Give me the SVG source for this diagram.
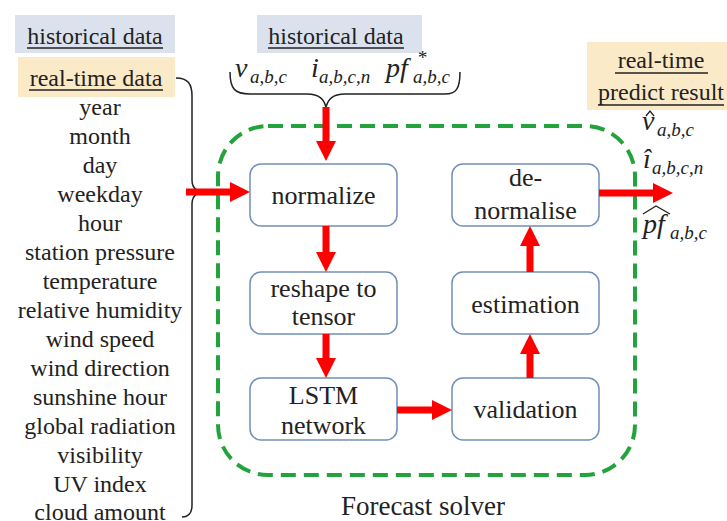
<svg xmlns="http://www.w3.org/2000/svg" width="727" height="521" viewBox="0 0 727 521">
  <defs>
    <marker id="head" markerUnits="userSpaceOnUse" markerWidth="20" markerHeight="20" viewBox="0 0 20 20" refX="2" refY="10" orient="auto">
      <path d="M0,0 L20,10 L0,20 z" fill="#f00"/>
    </marker>
    <rect id="node-shape" width="147" height="62" rx="11" fill="#fff" stroke="#7090b8" stroke-width="1.5"/>
  </defs>
  <rect width="727" height="521" fill="#fff"/>

  <!-- solver frame -->
  <rect id="solver-frame" x="218" y="126" width="417" height="349" rx="50" ry="50" fill="none" stroke="#22a33c" stroke-width="4" stroke-dasharray="15 8"/>
  <text font-family="Liberation Serif" fill="#222" text-anchor="middle" x="423" y="515" font-size="27">Forecast solver</text>

  <!-- input labels -->
  <g id="historical-left">
    <rect x="15" y="15" width="160" height="38" fill="#dbe2ee"/>
    <text font-family="Liberation Serif" fill="#222" text-anchor="middle" x="95" y="44" font-size="24">historical data</text>
    <line stroke="#222" stroke-width="1.5" x1="27" y1="48" x2="163" y2="48"/>
  </g>
  <g id="realtime-left">
    <rect x="18" y="57" width="157" height="40" fill="#fbeac8"/>
    <text font-family="Liberation Serif" fill="#222" text-anchor="middle" x="96" y="86" font-size="24">real-time data</text>
    <line stroke="#222" stroke-width="1.5" x1="29" y1="90" x2="163" y2="90"/>
  </g>
  <g id="features" fill="#222" text-anchor="middle" font-size="24">
    <text font-family="Liberation Serif" x="100" y="115">year</text>
    <text font-family="Liberation Serif" x="100" y="144">month</text>
    <text font-family="Liberation Serif" x="100" y="173">day</text>
    <text font-family="Liberation Serif" x="100" y="202">weekday</text>
    <text font-family="Liberation Serif" x="100" y="231">hour</text>
    <text font-family="Liberation Serif" x="100" y="260">station pressure</text>
    <text font-family="Liberation Serif" x="100" y="289">temperature</text>
    <text font-family="Liberation Serif" x="100" y="318">relative humidity</text>
    <text font-family="Liberation Serif" x="100" y="347">wind speed</text>
    <text font-family="Liberation Serif" x="100" y="376">wind direction</text>
    <text font-family="Liberation Serif" x="100" y="405">sunshine hour</text>
    <text font-family="Liberation Serif" x="100" y="434">global radiation</text>
    <text font-family="Liberation Serif" x="100" y="463">visibility</text>
    <text font-family="Liberation Serif" x="100" y="492">UV index</text>
    <text font-family="Liberation Serif" x="100" y="520">cloud amount</text>
  </g>
  <path fill="none" stroke="#222" stroke-width="1.5" d="M176,78 C188,78 192,84 192,96 L192,180 C192,188 197,192 206,192 C197,192 192,196 192,204 L192,505 C192,513 189,517 182,517"/>

  <g id="historical-top">
    <rect x="257" y="15" width="165" height="38" fill="#dbe2ee"/>
    <text font-family="Liberation Serif" fill="#222" text-anchor="middle" x="336" y="44" font-size="24">historical data</text>
    <line stroke="#222" stroke-width="1.5" x1="268" y1="48" x2="404" y2="48"/>
  </g>
  <g id="history-vars" fill="#222" font-style="italic">
    <text font-family="Liberation Serif" font-size="28" x="235" y="77">v</text>
    <text font-family="Liberation Serif" font-size="19" x="250" y="83">a,b,c</text>
    <text font-family="Liberation Serif" font-size="28" x="311" y="77">i</text>
    <text font-family="Liberation Serif" font-size="19" x="319" y="83">a,b,c,n</text>
    <text font-family="Liberation Serif" font-size="28" x="386" y="77">pf</text>
    <text font-family="Liberation Serif" font-size="19" x="413" y="83">a,b,c</text>
    <text font-family="Liberation Serif" font-size="19" x="417" y="64">*</text>
  </g>
  <path fill="none" stroke="#222" stroke-width="1.5" d="M230,72 C230,89 235,94 250,94 L307,94 C320,94 324,100 326,107 C328,100 332,94 345,94 L445,94 C456,94 460,89 460,72"/>

  <g id="output-label">
    <rect x="587" y="42" width="140" height="68" fill="#fbeac8"/>
    <text font-family="Liberation Serif" fill="#222" text-anchor="middle" x="661" y="68" font-size="24">real-time</text>
    <line stroke="#222" stroke-width="1.5" x1="615" y1="73" x2="708" y2="73"/>
    <text font-family="Liberation Serif" fill="#222" text-anchor="middle" x="661" y="100" font-size="24">predict result</text>
    <line stroke="#222" stroke-width="1.5" x1="598" y1="105" x2="724" y2="105"/>
  </g>
  <g id="output-vars" fill="#222" font-style="italic">
    <text font-family="Liberation Serif" font-size="28" x="642" y="130">v</text>
    <path d="M646,116 L650,111 L654,116" fill="none" stroke="#222" stroke-width="1.3"/>
    <text font-family="Liberation Serif" font-size="19" x="657" y="136">a,b,c</text>
    <text font-family="Liberation Serif" font-size="28" x="643" y="168">&#238;</text>
    <text font-family="Liberation Serif" font-size="19" x="652" y="174">a,b,c,n</text>
    <text font-family="Liberation Serif" font-size="28" x="643" y="233">pf</text>
    <path d="M643,214 L656,206 L670,214" fill="none" stroke="#222" stroke-width="1.3"/>
    <text font-family="Liberation Serif" font-size="19" x="670" y="239">a,b,c</text>
  </g>

  <!-- process nodes -->
  <g id="normalize" fill="#222" text-anchor="middle" font-size="26">
    <use href="#node-shape" x="250" y="164"/>
    <text font-family="Liberation Serif" x="323.5" y="204">normalize</text>
  </g>
  <g id="reshape" fill="#222" text-anchor="middle" font-size="26">
    <use href="#node-shape" x="250" y="272"/>
    <text font-family="Liberation Serif" x="323.5" y="297">reshape to</text>
    <text font-family="Liberation Serif" x="323.5" y="325">tensor</text>
  </g>
  <g id="lstm" fill="#222" text-anchor="middle" font-size="26">
    <use href="#node-shape" x="250" y="378"/>
    <text font-family="Liberation Serif" x="323.5" y="404">LSTM</text>
    <text font-family="Liberation Serif" x="323.5" y="434">network</text>
  </g>
  <g id="validation" fill="#222" text-anchor="middle" font-size="26">
    <use href="#node-shape" x="452" y="378"/>
    <text font-family="Liberation Serif" x="525.5" y="418">validation</text>
  </g>
  <g id="estimation" fill="#222" text-anchor="middle" font-size="26">
    <use href="#node-shape" x="452" y="272"/>
    <text font-family="Liberation Serif" x="525.5" y="313">estimation</text>
  </g>
  <g id="denormalise" fill="#222" text-anchor="middle" font-size="26">
    <use href="#node-shape" x="452" y="164"/>
    <text font-family="Liberation Serif" x="525.5" y="186">de-</text>
    <text font-family="Liberation Serif" x="525.5" y="219">normalise</text>
  </g>

  <!-- connectors -->
  <g id="connectors" stroke="#f00" stroke-width="7" fill="none" marker-end="url(#head)">
    <line x1="186" y1="192" x2="232" y2="192"/>
    <line x1="326" y1="107" x2="326" y2="143"/>
    <line x1="326" y1="226" x2="326" y2="254"/>
    <line x1="326" y1="334" x2="326" y2="360"/>
    <line x1="397" y1="410" x2="434" y2="410"/>
    <line x1="530" y1="378" x2="530" y2="352"/>
    <line x1="530" y1="272" x2="530" y2="244"/>
    <line x1="599" y1="193" x2="655" y2="193"/>
  </g>
</svg>
